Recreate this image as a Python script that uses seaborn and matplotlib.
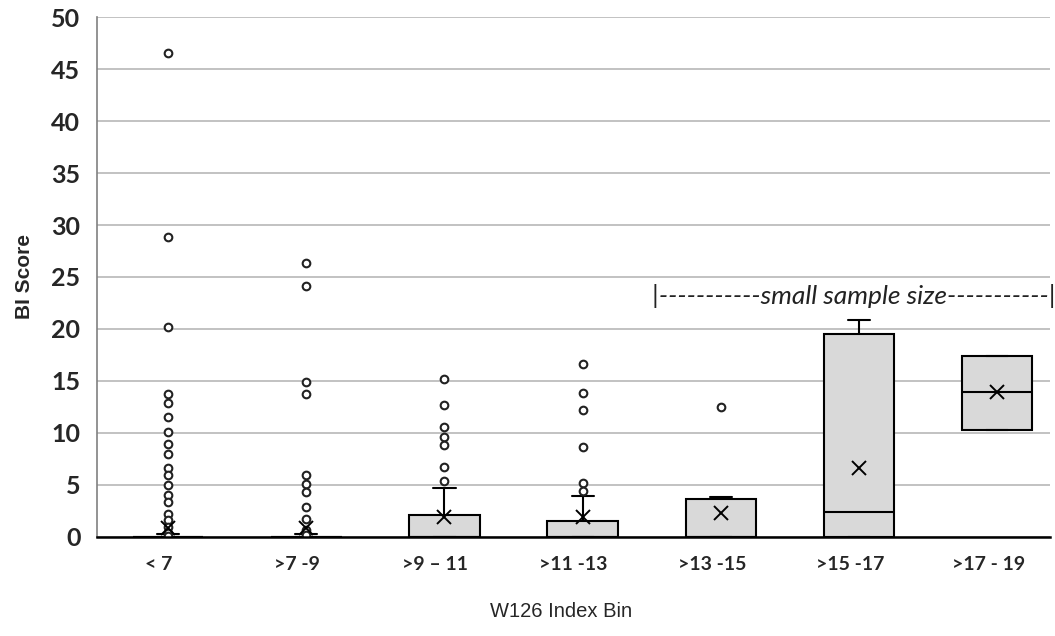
import numpy as np
import matplotlib
matplotlib.use("Agg")
import matplotlib.pyplot as plt
import matplotlib.transforms as mtransforms
import pandas as pd
import seaborn as sns

categories = ["< 7", ">7 -9", ">9 – 11", ">11 -13", ">13 -15", ">15 -17", ">17 - 19"]

# box statistics
q1 = [0, 0, 0, 0, 0, 0, 10.3]
median = [0, 0, 0, 0, 0, 2.4, 13.9]
q3 = [0, 0, 2.1, 1.55, 3.67, 19.5, 17.35]
whisker_low = [0, 0, 0, 0, 0, 0, 10.3]
whisker_high = [0.3, 0.3, 4.7, 3.9, 3.83, 20.9, 17.35]
means = [0.8, 0.8, 1.9, 1.9, 2.25, 6.6, 13.9]

# individual points shown as circles
points_lt7 = [46.6, 28.8, 20.2, 13.75, 12.9, 11.5, 10.1, 8.9, 7.95, 6.6, 5.9,
              5.0, 4.0, 3.3, 2.2, 1.6, 0.9, 0.4, 0.1]
points_7_9 = [26.3, 24.1, 14.85, 13.75, 5.9, 5.05, 4.27, 2.9, 1.7, 0.7, 0.2]
points_9_11 = [15.2, 12.7, 10.6, 9.6, 8.8, 6.7, 5.4]
points_11_13 = [16.6, 13.8, 12.2, 8.6, 5.2, 4.4]
points_13_15 = [12.5]
points_15_17 = []
points_17_19 = []

sns.set_style("white")
plt.rcParams["font.family"] = ["Lato", "DejaVu Sans"]

pts = [points_lt7, points_7_9, points_9_11, points_11_13,
       points_13_15, points_15_17, points_17_19]
df = pd.DataFrame({"bin": [c for c, p in zip(categories, pts) for _ in p],
                   "score": [v for p in pts for v in p]})

fig, ax = plt.subplots(figsize=(10.55, 6.36), dpi=100)
fig.subplots_adjust(left=0.092, right=0.995, bottom=0.156, top=0.973)

stats = [dict(q1=a, med=m, q3=b, whislo=lo, whishi=hi, label=c)
         for a, m, b, lo, hi, c in zip(q1, median, q3, whisker_low, whisker_high, categories)]
ax.bxp(stats, positions=range(len(categories)), widths=0.51, capwidths=0.16,
       patch_artist=True, showfliers=False,
       boxprops=dict(facecolor="#d9d9d9", edgecolor="black", linewidth=1.5),
       medianprops=dict(color="black", linewidth=1.5),
       whiskerprops=dict(color="black", linewidth=1.5),
       capprops=dict(color="black", linewidth=1.5))

sns.stripplot(data=df, x="bin", y="score", order=categories, jitter=False,
              color="white", edgecolor="#222222", linewidth=1.5, size=5.5,
              ax=ax, zorder=4)
sns.pointplot(x=categories, y=means, order=categories, linestyle="none",
              marker="x", color="black", markersize=10, markeredgewidth=1.4,
              errorbar=None, ax=ax, zorder=5)

ax.set_xlim(-0.514, 6.38)
ax.set_ylim(0, 50)
yticks = np.arange(0, 51, 5)
ax.set_yticks(yticks)
ax.set_yticklabels([str(t) for t in yticks], fontsize=18, fontweight="bold")
ax.yaxis.grid(True, color="#bdbdbd", linewidth=1.3)
ax.set_axisbelow(True)
for s in ["top", "right"]:
    ax.spines[s].set_visible(False)
ax.spines["left"].set_color("#808080")
ax.spines["left"].set_linewidth(1.2)
ax.spines["bottom"].set_color("black")
ax.spines["bottom"].set_linewidth(1.8)
ax.spines["bottom"].set_zorder(6)

ax.set_xticks(range(len(categories)))
ax.set_xticklabels(categories, fontsize=14, fontweight="bold")
ax.tick_params(axis="x", length=0, pad=14)
ax.tick_params(axis="y", length=0, pad=12)
shift = mtransforms.ScaledTranslation(-9 / 100, 0, fig.dpi_scale_trans)
for lab in ax.get_xticklabels():
    lab.set_transform(lab.get_transform() + shift)

narrow = ["Liberation Sans Narrow", "Liberation Sans", "DejaVu Sans"]
ax.set_xlabel("W126 Index Bin", fontsize=14.5, family=narrow)
ax.set_ylabel("BI Score", fontsize=15, family=narrow, fontweight="bold")
ax.xaxis.set_label_coords(0.487, -0.125)
ax.yaxis.set_label_coords(-0.066, 0.5)

ax.text(4.96, 23.2, "|-----------small sample size-----------|",
        ha="center", va="center", fontsize=19, style="italic", color="#222222")

plt.savefig("out.png", dpi=100)
